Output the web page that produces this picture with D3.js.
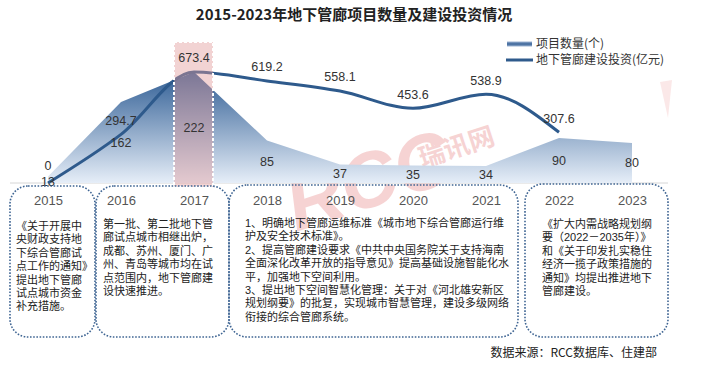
<!DOCTYPE html>
<html><head><meta charset="utf-8">
<script src="https://cdn.jsdelivr.net/npm/d3@7/dist/d3.min.js"></script>
<style>body{margin:0;background:#fff}svg{display:block}
.bt{font-family:'Liberation Sans','Noto Sans CJK SC',sans-serif;font-size:11px;color:#222;line-height:13.4px;white-space:nowrap;margin:0;padding:0}
.bt div{height:13.4px}
</style>
</head><body><svg id="c" width="705" height="369"></svg>
<script>
const years = ["2015","2016","2017","2018","2019","2020","2021","2022","2023"];
const projectCounts = [13,162,222,85,37,35,34,90,80];
const investYears = ["2015","2016","2017","2018","2019","2020","2021","2022"];
const investValues = [0,294.7,673.4,619.2,558.1,453.6,538.9,307.6];
const title = "2015-2023年地下管廊项目数量及建设投资情况";
const legendLabels = ["项目数量(个)","地下管廊建设投资(亿元)"];
const highlightYear = "2017";
const boxTexts = [
 ["《关于开展中","央财政支持地","下综合管廊试","点工作的通知》","提出地下管廊","试点城市资金","补充措施。"],
 ["第一批、第二批地下管","廊试点城市相继出炉，","成都、苏州、厦门、广","州、青岛等城市均在试","点范围内，地下管廊建","设快速推进。"],
 ["1、明确地下管廊运维标准《城市地下综合管廊运行维","护及安全技术标准》。","2、提高管廊建设要求《中共中央国务院关于支持海南","全面深化改革开放的指导意见》提高基础设施智能化水","平，加强地下空间利用。","3、提出地下空间智慧化管理：关于对《河北雄安新区","规划纲要》的批复，实现城市智慧管理，建设多级网络","衔接的综合管廊系统。"],
 ["《扩大内需战略规划纲","要（2022－2035年）》","和《关于印发扎实稳住","经济一揽子政策措施的","通知》均提出推进地下","管廊建设。"]
];
const source = "数据来源：RCC数据库、住建部";

const svg = d3.select("#c");
const FONT = "'Noto Sans CJK SC','Noto Sans',sans-serif";
const NUMFONT = "'Liberation Sans', Arial, sans-serif";
const baseY = 183, topY = 33;
const x = d3.scalePoint().domain(years).range([48, 632]);
const yA = d3.scaleLinear().domain([0,300]).range([baseY, topY]);
const yL = d3.scaleLinear().domain([0,910]).range([baseY, topY]);

const defs = svg.append("defs");
const g1 = defs.append("linearGradient").attr("id","ag").attr("gradientUnits","userSpaceOnUse")
  .attr("x1",0).attr("x2",0).attr("y1",yA(222)).attr("y2",baseY);
g1.append("stop").attr("offset",0).attr("stop-color","#2f5d94");
g1.append("stop").attr("offset",1).attr("stop-color","#e6eef8");
const g2 = defs.append("linearGradient").attr("id","lg").attr("x1",0).attr("x2",0).attr("y1",0).attr("y2",1);
g2.append("stop").attr("offset",0).attr("stop-color","#9db4d3");
g2.append("stop").attr("offset",0.5).attr("stop-color","#3a6498");
g2.append("stop").attr("offset",1).attr("stop-color","#9db4d3");

// title
svg.append("text").attr("x",354).attr("y",20).attr("text-anchor","middle")
  .attr("font-family",FONT).attr("font-weight","bold").attr("font-size",15).attr("fill","#222").text(title);

// watermark
const wm = svg.append("g").attr("transform","translate(296,232) rotate(-18)").attr("opacity",0.2);
wm.append("text").attr("font-family","Liberation Sans, sans-serif").attr("font-weight","bold").attr("font-style","italic")
  .attr("font-size",78).attr("fill","#d62828").text("RCC");
wm.append("text").attr("x",140).attr("y",-22).attr("font-family",FONT).attr("font-weight","bold")
  .attr("font-size",26).attr("fill","#d62828").text("瑞讯网");
svg.append("path").attr("d","M660,82 L672,80 L668,118 Z").attr("fill","#e04040").attr("opacity",0.12);

// baseline
svg.append("line").attr("x1",10).attr("x2",668).attr("y1",baseY).attr("y2",baseY).attr("stroke","#d6d6d6").attr("stroke-width",1);

// area
const area = d3.area().x((d,i)=>x(years[i])).y0(baseY).y1(d=>yA(d));
svg.append("path").datum(projectCounts).attr("d",area).attr("fill","url(#ag)");

// line
const line = d3.line().x((d,i)=>x(investYears[i])).y(d=>yL(d)).curve(d3.curveMonotoneX);
svg.append("path").datum(investValues).attr("d",line).attr("fill","none").attr("stroke","#2e5a8c").attr("stroke-width",3);

// highlight rect
const hx = x(highlightYear);
svg.append("rect").attr("x",hx-20).attr("y",42).attr("width",39).attr("height",baseY+4-42)
  .attr("fill","#e09a9a").attr("fill-opacity",0.43).attr("stroke","#fff").attr("stroke-width",2).attr("stroke-dasharray","3,2");

// labels
svg.append("g").selectAll("text").data(projectCounts).join("text")
  .attr("x",(d,i)=>x(years[i])).attr("y",d=>(yA(d)+baseY)/2 + (d<20?1.5:0)).attr("dy","0.35em").attr("text-anchor","middle")
  .attr("font-family",NUMFONT).attr("font-size",12.5).attr("fill","#333").text(d=>d);
svg.append("g").selectAll("text").data(investValues).join("text")
  .attr("x",(d,i)=>x(investYears[i])).attr("y",d=>yL(d)-(d===0?17:14)).attr("dy","0.35em").attr("text-anchor","middle")
  .attr("font-family",NUMFONT).attr("font-size",12.5).attr("fill","#333").text(d=>d===0?"0":d.toFixed(1));

// legend
svg.append("rect").attr("x",507).attr("y",41.5).attr("width",25).attr("height",5).attr("fill","url(#lg)");
svg.append("line").attr("x1",506).attr("x2",533).attr("y1",60).attr("y2",60).attr("stroke","#2e5a8c").attr("stroke-width",3);
legendLabels.forEach((t,i)=>{
  svg.append("text").attr("x",536).attr("y",44+i*16).attr("dy","0.35em").attr("font-family",FONT)
   .attr("font-size",12).attr("fill","#333").text(t);
});

// boxes
const boxes = [[10,186,85,151],[96,186,133,151],[229,185,289,152],[525,184,143,153]];
const textX = [16,103,245,542];
const textY0 = [220,218,217,218];
boxes.forEach((b,i)=>{
  svg.append("rect").attr("x",b[0]).attr("y",b[1]).attr("width",b[2]).attr("height",b[3]).attr("rx",18).attr("ry",18)
   .attr("fill","none").attr("stroke","#3f6593").attr("stroke-width",1.6).attr("stroke-dasharray","1.6,1.6");
  const fo = svg.append("foreignObject").attr("x",textX[i]).attr("y",textY0[i]).attr("width",b[0]+b[2]-textX[i]+6).attr("height",120);
  const div = fo.append("xhtml:div").attr("class","bt");
  div.selectAll("div").data(boxTexts[i]).join("xhtml:div").text(d=>d);
});

// year axis
const ax = svg.append("g").attr("transform","translate(0,196)")
  .call(d3.axisBottom(x).tickSize(0).tickPadding(0));
ax.select(".domain").remove();
ax.selectAll("text").attr("font-family",NUMFONT).attr("font-size",13).attr("fill","#555");

// source
svg.append("text").attr("x",657).attr("y",353).attr("dy","0.35em").attr("text-anchor","end")
  .attr("font-family",FONT).attr("font-size",12).attr("fill","#222").text(source);
</script></body></html>
